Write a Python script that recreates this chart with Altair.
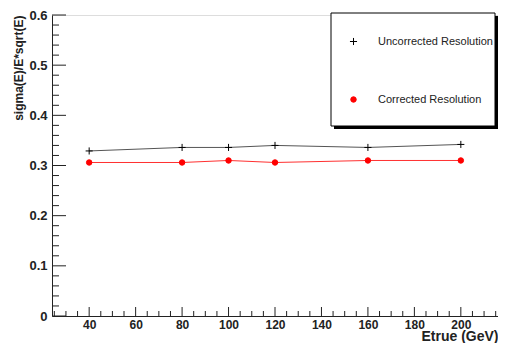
import altair as alt
import pandas as pd

# ---- data ----
energy = [40, 80, 100, 120, 160, 200]
uncorrected = [0.329, 0.336, 0.336, 0.340, 0.336, 0.342]
corrected = [0.306, 0.306, 0.310, 0.306, 0.310, 0.310]

series_names = ["Uncorrected Resolution", "Corrected Resolution"]
marker_colors = ["#000000", "#ff0000"]
line_colors = ["#555555", "#ff3030"]
cross_path = "M-1,0L1,0M0,-1L0,1"
marker_shapes = [cross_path, "circle"]
marker_sizes = [50, 30]

x_domain = [24, 216]
y_domain = [0, 0.6]
x_major = [40, 60, 80, 100, 120, 140, 160, 180, 200]
x_minor = [v for v in range(25, 216, 5) if v not in x_major]
y_major = [0, 0.1, 0.2, 0.3, 0.4, 0.5, 0.6]
y_minor = [round(i * 0.02, 2) for i in range(31) if i % 5 != 0]

W, H = 446, 301
FONT = "Liberation Sans"

df = pd.DataFrame({
    "E": energy * 2,
    "res": uncorrected + corrected,
    "series": [series_names[0]] * len(energy) + [series_names[1]] * len(energy),
})

xs = alt.Scale(domain=x_domain, nice=False, zero=False)
ys = alt.Scale(domain=y_domain, nice=False)

x_axis = alt.Axis(values=x_major, tickSize=0, labelPadding=3, grid=False,
                  labelFont=FONT, labelFontSize=12, labelFontWeight="bold",
                  labelColor="#222", domainColor="#222",
                  title="Etrue (GeV)", titleFont=FONT, titleFontSize=14,
                  titleFontWeight="bold", titleColor="#222", titleAnchor="end",
                  titleBaseline="alphabetic", titleY=24)
y_axis = alt.Axis(values=y_major, format="~g", tickSize=0, labelPadding=5, grid=False,
                  labelFont=FONT, labelFontSize=13, labelFontWeight="bold",
                  labelColor="#222", domainColor="#222",
                  title="sigma(E)/E*sqrt(E)", titleFont=FONT, titleFontSize=12,
                  titleFontWeight="bold", titleColor="#222", titleAnchor="end",
                  titlePadding=3)

base = alt.Chart(df)

lines = []
for name, col in zip(series_names, line_colors):
    lines.append(
        base.transform_filter(alt.datum.series == name)
        .mark_line(strokeWidth=1, color=col)
        .encode(x=alt.X("E:Q", scale=xs, axis=x_axis),
                y=alt.Y("res:Q", scale=ys, axis=y_axis))
    )

leg = alt.Legend(title=None, orient="none", legendX=296, legendY=21,
                 labelFont=FONT, labelFontSize=11, labelColor="#222",
                 labelOffset=19, rowPadding=45, padding=0,
                 symbolStrokeWidth=1)

points = base.mark_point(filled=True, strokeWidth=1, opacity=1).encode(
    x=alt.X("E:Q", scale=xs, axis=x_axis),
    y=alt.Y("res:Q", scale=ys, axis=y_axis),
    color=alt.Color("series:N", scale=alt.Scale(domain=series_names, range=marker_colors), legend=leg),
    stroke=alt.Stroke("series:N", scale=alt.Scale(domain=series_names, range=marker_colors), legend=leg),
    shape=alt.Shape("series:N", scale=alt.Scale(domain=series_names, range=marker_shapes), legend=leg),
    size=alt.Size("series:N", scale=alt.Scale(domain=series_names, range=marker_sizes), legend=leg),
)

# inward tick marks
ymaj = alt.Chart(pd.DataFrame({"v": y_major})).mark_rule(color="#222", strokeWidth=1).encode(
    y=alt.Y("v:Q", scale=ys, axis=y_axis), x=alt.value(0), x2=alt.value(14))
ymin = alt.Chart(pd.DataFrame({"v": y_minor})).mark_rule(color="#222", strokeWidth=1).encode(
    y=alt.Y("v:Q", scale=ys, axis=y_axis), x=alt.value(0), x2=alt.value(7))
xmaj = alt.Chart(pd.DataFrame({"v": x_major})).mark_rule(color="#222", strokeWidth=1).encode(
    x=alt.X("v:Q", scale=xs, axis=x_axis), y=alt.value(H), y2=alt.value(H - 9))
xmin = alt.Chart(pd.DataFrame({"v": x_minor})).mark_rule(color="#222", strokeWidth=1).encode(
    x=alt.X("v:Q", scale=xs, axis=x_axis), y=alt.value(H), y2=alt.value(H - 5))

# legend box with drop shadow
one = pd.DataFrame({"a": [0]})
shadow = alt.Chart(one).mark_rect(color="#000").encode(
    x=alt.value(282), x2=alt.value(446), y=alt.value(1), y2=alt.value(114))
box = alt.Chart(one).mark_rect(fill="#ffffff", stroke="#000", strokeWidth=1).encode(
    x=alt.value(279), x2=alt.value(443), y=alt.value(-2), y2=alt.value(111))

chart = alt.layer(
    ymaj, ymin, xmaj, xmin, *lines, points, shadow, box
).properties(
    width=W, height=H,
    autosize=alt.AutoSizeParams(type="none"),
    padding={"left": 44, "top": 7, "right": 0, "bottom": 27},
).configure_view(stroke="#222", strokeWidth=1).configure(background="white")

chart.save("out.html", embed_options={"renderer": "svg", "actions": False})
